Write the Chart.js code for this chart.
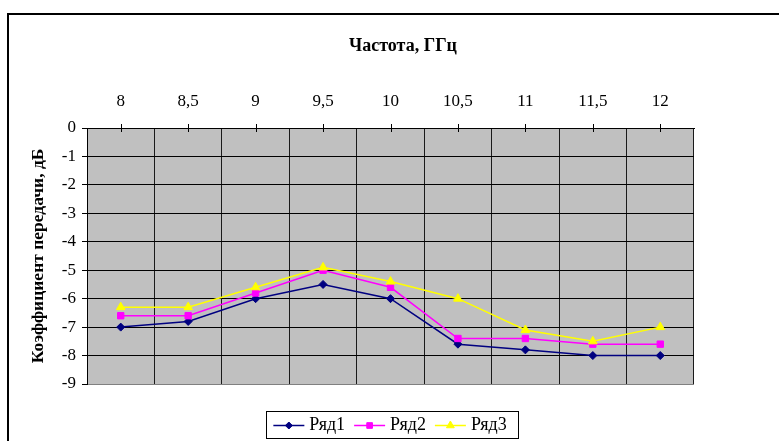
<!DOCTYPE html>
<html><head><meta charset="utf-8">
<script src="https://cdn.jsdelivr.net/npm/chart.js@4/dist/chart.umd.min.js"></script>
<style>html,body{margin:0;padding:0;background:#fff;} #wrap{position:relative;width:779px;height:441px;}</style>
</head><body><div id="wrap"><canvas id="c"></canvas></div>
<script>
const categories = ['8','8,5','9','9,5','10','10,5','11','11,5','12'];
const series1 = [-7, -6.8, -6, -5.5, -6, -7.6, -7.8, -8, -8];
const series2 = [-6.6, -6.6, -5.8, -5.0, -5.6, -7.4, -7.4, -7.6, -7.6];
const series3 = [-6.3, -6.3, -5.6, -4.9, -5.4, -6.0, -7.1, -7.5, -7.0];
const seriesNames = ['Ряд1', 'Ряд2', 'Ряд3'];
const yMin = -9, yMax = 0, yStep = 1;
const xTitle = 'Частота, ГГц';
const yTitle = 'Коэффициент передачи, дБ';

const FONT = "'Liberation Serif', 'Times New Roman', serif";
const colors = ['#000080', '#FF00FF', '#FFFF00'];
const styles = ['rectRot', 'rect', 'triangle'];
const radii = [4, 4.5, 5];

const framePlugin = {
  id: 'frame',
  beforeDraw(chart) {
    const ctx = chart.ctx, a = chart.chartArea;
    ctx.save();
    ctx.fillStyle = '#fff';
    ctx.fillRect(0, 0, chart.width, chart.height);
    ctx.strokeStyle = '#000';
    ctx.lineWidth = 2;
    ctx.strokeRect(8, 14, 800, 500);
    ctx.fillStyle = '#C0C0C0';
    ctx.fillRect(a.left, a.top, a.right - a.left, a.bottom - a.top);
    ctx.restore();
  },
  afterDraw(chart) {
    const ctx = chart.ctx, a = chart.chartArea, xs = chart.scales.x;
    ctx.save();
    ctx.strokeStyle = '#000';
    ctx.lineWidth = 1;
    for (let i = 0; i < categories.length; i++) {
      const x = Math.round(xs.getPixelForValue(i)) + 0.5;
      ctx.beginPath();
      ctx.moveTo(x, a.top - 4);
      ctx.lineTo(x, a.top + 4);
      ctx.stroke();
    }
    // legend
    ctx.font = '18px ' + FONT;
    ctx.textBaseline = 'middle';
    const lineW = 31, gap = 5, sep = 9, padL = 7, padR = 12;
    const widths = seriesNames.map(n => ctx.measureText(n).width);
    const total = padL + padR + widths.reduce((s, w) => s + lineW + gap + w, 0) + sep * (seriesNames.length - 1);
    const cx = 392.5;
    let x = cx - total / 2;
    const top = 411, h = 27, cy = top + h / 2 + 1;
    ctx.strokeStyle = '#000';
    ctx.lineWidth = 1;
    ctx.strokeRect(Math.round(x) + 0.5, top + 0.5, Math.round(total), h);
    x += padL;
    seriesNames.forEach((n, i) => {
      ctx.strokeStyle = colors[i];
      ctx.fillStyle = colors[i];
      ctx.lineWidth = 1.5;
      ctx.beginPath();
      ctx.moveTo(x, cy);
      ctx.lineTo(x + lineW, cy);
      ctx.stroke();
      ctx.lineWidth = 1;
      Chart.helpers.drawPoint(ctx, {pointStyle: styles[i], radius: radii[i] - 0.5, borderWidth: 1}, x + lineW / 2, cy);
      ctx.fillStyle = '#000';
      ctx.textAlign = 'left';
      ctx.fillText(n, x + lineW + gap, cy);
      x += lineW + gap + widths[i] + sep;
    });
    ctx.restore();
  }
};

const data = [series1, series2, series3];
const datasets = data.map((d, i) => ({
  label: seriesNames[i],
  data: d,
  borderColor: colors[i],
  backgroundColor: colors[i],
  borderWidth: 1.5,
  pointStyle: styles[i],
  pointRadius: radii[i],
  pointBorderWidth: 1,
  pointBorderColor: colors[i],
  pointBackgroundColor: colors[i],
  tension: 0,
  fill: false,
  order: 2 - i
}));

new Chart(document.getElementById('c'), {
  type: 'line',
  data: { labels: categories, datasets },
  plugins: [framePlugin],
  options: {
    responsive: true,
    maintainAspectRatio: false,
    animation: false,
    layout: { padding: { left: 27, right: 0, top: 0, bottom: 57 } },
    plugins: {
      legend: { display: false },
      tooltip: { enabled: false },
      title: {
        display: true,
        text: xTitle,
        color: '#000',
        font: { family: FONT, size: 18, weight: 'bold' },
        padding: { top: 36, bottom: 0 }
      }
    },
    scales: {
      x: {
        type: 'category',
        position: 'top',
        offset: true,
        afterFit(s) { s.height = 128 - 57.6; },
        grid: {
          offset: true,
          drawTicks: false,
          color: c => (c.index === categories.length ? '#808080' : '#1a1a1a'),
          lineWidth: 1
        },
        border: { display: true, color: '#000', width: 1 },
        ticks: { color: '#000', font: { family: FONT, size: 17 }, padding: 16, maxRotation: 0, autoSkip: false }
      },
      y: {
        type: 'linear',
        position: 'left',
        min: yMin,
        max: yMax,
        afterFit(s) { s.width = 60; },
        grid: {
          color: c => (c.tick && c.tick.value === yMin ? '#808080' : '#000'),
          tickColor: '#000',
          tickLength: 5,
          lineWidth: 1
        },
        border: { display: true, color: '#000', width: 1 },
        ticks: {
          stepSize: yStep,
          color: '#000',
          font: { family: FONT, size: 17 },
          padding: 6,
          callback: v => String(v)
        },
        title: {
          display: true,
          text: yTitle,
          color: '#000',
          font: { family: FONT, size: 17.5, weight: 'bold' },
          padding: { top: 1, bottom: 0 }
        }
      },
      y2: {
        type: 'linear',
        position: 'right',
        display: true,
        afterFit(s) { s.width = 85; },
        grid: { display: false },
        border: { display: false },
        ticks: { display: false }
      }
    }
  }
});
</script>
</body></html>
